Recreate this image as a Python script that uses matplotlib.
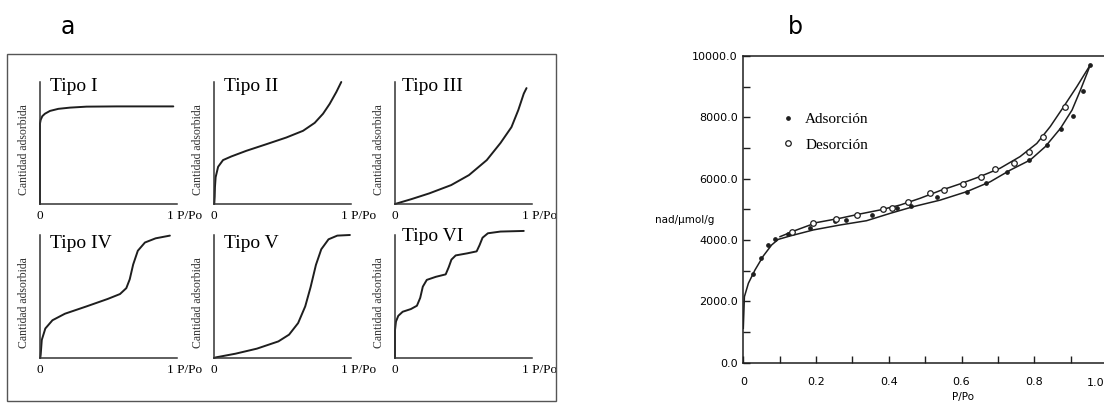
import numpy as np
import matplotlib
matplotlib.use("Agg")
import matplotlib.pyplot as plt
from matplotlib.patches import Rectangle

# ---- panel a: the six isotherm types (x = P/Po, y = amount, both 0..1)
tipo_names = ["Tipo I", "Tipo II", "Tipo III", "Tipo IV", "Tipo V", "Tipo VI"]

t1_x = [0, 0, 0.005, 0.017, 0.036, 0.073, 0.134, 0.219, 0.34, 0.56, 0.973]
t1_y = [0, 0.66, 0.69, 0.72, 0.74, 0.763, 0.78, 0.79, 0.798, 0.80, 0.80]

t2_x = [0.002, 0.005, 0.007, 0.012, 0.03, 0.066, 0.127, 0.236, 0.382, 0.528,
        0.65, 0.735, 0.796, 0.844, 0.893, 0.929]
t2_y = [0.0, 0.06, 0.14, 0.22, 0.305, 0.36, 0.39, 0.436, 0.49, 0.545,
        0.60, 0.665, 0.74, 0.82, 0.918, 1.0]

t3_x = [0, 0.12, 0.25, 0.41, 0.54, 0.67, 0.77, 0.85, 0.90, 0.94, 0.96]
t3_y = [0, 0.04, 0.087, 0.155, 0.237, 0.36, 0.50, 0.63, 0.77, 0.905, 0.95]

t4_x = [0.002, 0.005, 0.013, 0.039, 0.091, 0.182, 0.338, 0.494, 0.584, 0.63,
        0.655, 0.68, 0.714, 0.766, 0.844, 0.948]
t4_y = [0.0, 0.027, 0.147, 0.24, 0.307, 0.36, 0.419, 0.48, 0.52, 0.568,
        0.64, 0.76, 0.872, 0.939, 0.973, 0.995]

t5_x = [0.0, 0.013, 0.157, 0.313, 0.47, 0.548, 0.614, 0.666, 0.705, 0.744,
        0.783, 0.836, 0.90, 0.992]
t5_y = [0.0, 0.005, 0.035, 0.076, 0.135, 0.19, 0.284, 0.42, 0.576, 0.757,
        0.884, 0.965, 0.995, 1.0]

t6_x = [0, 0, 0.007, 0.024, 0.056, 0.116, 0.16, 0.184, 0.203, 0.232, 0.298,
        0.37, 0.392, 0.412, 0.443, 0.528, 0.596, 0.617, 0.639, 0.678, 0.77, 0.94]
t6_y = [0, 0.227, 0.296, 0.343, 0.376, 0.398, 0.425, 0.489, 0.58, 0.635, 0.66,
        0.68, 0.738, 0.80, 0.834, 0.851, 0.867, 0.917, 0.978, 1.014, 1.028, 1.033]

tipo_curves = [(t1_x, t1_y), (t2_x, t2_y), (t3_x, t3_y),
               (t4_x, t4_y), (t5_x, t5_y), (t6_x, t6_y)]

# ---- panel b: measured isotherm
ads_x = [0.026, 0.048, 0.069, 0.087, 0.122, 0.184, 0.252, 0.283, 0.353, 0.422,
         0.46, 0.532, 0.615, 0.666, 0.726, 0.786, 0.836, 0.874, 0.906, 0.935, 0.954]
ads_y = [2890, 3400, 3840, 4030, 4200, 4380, 4620, 4650, 4815, 5030,
         5120, 5390, 5580, 5850, 6230, 6610, 7100, 7610, 8044, 8870, 9710]

des_x = [0.133, 0.191, 0.254, 0.312, 0.383, 0.408, 0.454, 0.514, 0.553, 0.604,
         0.654, 0.693, 0.744, 0.786, 0.825, 0.885]
des_y = [4250, 4540, 4670, 4815, 5000, 5030, 5250, 5520, 5630, 5826,
         6065, 6316, 6520, 6880, 7370, 8327]

ads_line_x = [0.0, 0.003, 0.014, 0.032, 0.055, 0.078, 0.096, 0.128, 0.193, 0.266,
              0.339, 0.404, 0.468, 0.541, 0.615, 0.679, 0.734, 0.789, 0.83,
              0.872, 0.904, 0.927, 0.945, 0.954]
ads_line_y = [1120, 2150, 2590, 3020, 3480, 3840, 4020, 4130, 4330, 4490,
              4630, 4870, 5090, 5300, 5580, 5900, 6280, 6610, 7040,
              7640, 8240, 8890, 9430, 9710]

des_line_x = [0.954, 0.917, 0.881, 0.844, 0.807, 0.761, 0.706, 0.651, 0.596, 0.541,
              0.486, 0.431, 0.376, 0.321, 0.266, 0.202, 0.147, 0.101]
des_line_y = [9710, 9000, 8350, 7700, 7150, 6720, 6340, 6070, 5830, 5610,
              5360, 5140, 4980, 4850, 4710, 4570, 4330, 4110]

x_ticks = [0, 0.2, 0.4, 0.6, 0.8, 1.0]
x_labels = ["0", "0.2", "0.4", "0.6", "0.8", "1.0"]

W, H = 1104, 403
fig = plt.figure(figsize=(W / 100, H / 100), dpi=100)

def box(x0, y_top, x1, y_bot):
    # pixel box -> figure fraction [left, bottom, width, height]
    return [x0 / W, 1 - y_bot / H, (x1 - x0) / W, (y_bot - y_top) / H]

serif = "Liberation Serif"
ink = "#1e1e1e"

# outer frame of panel a
fig.patches.append(Rectangle((7 / W, 1 - 401 / H), (556 - 7) / W, (401 - 54) / H,
                             transform=fig.transFigure, fill=False,
                             edgecolor="#555555", linewidth=1.0))
fig.text(68 / W, 1 - 27 / H, "a", fontsize=17, ha="center", va="center",
         family="DejaVu Sans")
fig.text(795 / W, 1 - 27 / H, "b", fontsize=17, ha="center", va="center",
         family="DejaVu Sans")

col_left = [40, 214, 395]
rows = [(82, 204), (235, 358)]
name_pos = [(0.075, 1.03), (0.07, 1.03), (0.05, 1.03),
            (0.075, 1.0), (0.07, 1.0), (0.05, 1.06)]

for i, (cx, cy) in enumerate(tipo_curves):
    r, c = divmod(i, 3)
    top, bot = rows[r]
    ax = fig.add_axes(box(col_left[c], top, col_left[c] + 137, bot))
    ax.plot(cx, cy, color=ink, lw=1.4, clip_on=False, solid_capstyle="round")
    ax.set_xlim(0, 1)
    ax.set_ylim(0, 1)
    for s in ["top", "right"]:
        ax.spines[s].set_visible(False)
    for s in ["left", "bottom"]:
        ax.spines[s].set_color("#333333")
        ax.spines[s].set_linewidth(1.1)
    ax.set_xticks([])
    ax.set_yticks([])
    ax.text(name_pos[i][0], name_pos[i][1], tipo_names[i], transform=ax.transAxes,
            ha="left", va="top", fontsize=14, family=serif)
    ax.text(-0.115, 0.45, "Cantidad adsorbida", transform=ax.transAxes,
            rotation=90, ha="center", va="center", fontsize=8.5, family=serif,
            color="#333333")
    ax.text(0.0, -0.1, "0", transform=ax.transAxes, ha="center", va="center",
            fontsize=9.5, family=serif)
    ax.text(0.925, -0.1, "1 P/Po", transform=ax.transAxes, ha="left", va="center",
            fontsize=9.5, family=serif)

# panel b
bx = fig.add_axes(box(743.3, 56, 1107, 362.7))
bx.plot(ads_line_x, ads_line_y, color=ink, lw=1.1)
bx.plot(des_line_x, des_line_y, color=ink, lw=1.1)
bx.plot(ads_x, ads_y, "o", color=ink, ms=2.4, label="Adsorción")
bx.plot(des_x, des_y, "o", mfc="white", mec=ink, mew=0.9, ms=4.0, label="Desorción")
bx.set_xlim(0, 1.0)
bx.set_ylim(0, 10000)
bx.spines["right"].set_visible(False)
for s in ["left", "bottom", "top"]:
    bx.spines[s].set_linewidth(1.1)
    bx.spines[s].set_color(ink)

bx.set_xticks(np.arange(0, 1.01, 0.1), minor=True)
bx.set_xticks(x_ticks)
# last label would fall off the edge: drawn separately, nudged left
bx.set_xticklabels(x_labels[:-1] + [""])
bx.annotate(x_labels[-1], xy=(x_ticks[-1], 0), xycoords=("data", "axes fraction"),
            xytext=(-8, -14.5), textcoords="offset points", ha="center", va="center",
            fontsize=8)
bx.set_yticks(np.arange(0, 10001, 1000), minor=True)
bx.set_yticks(np.arange(0, 10001, 2000))
bx.set_yticklabels([f"{v:.1f}" for v in np.arange(0, 10001, 2000)])
bx.tick_params(which="both", direction="in", length=5, width=1.0, color=ink,
               labelsize=8)
bx.tick_params(axis="x", which="both", pad=10.5)
bx.tick_params(axis="y", which="both", pad=4)

fig.text(655 / W, 1 - 220 / H, "nad/\u00b5mol/g", fontsize=7.5, ha="left",
         va="center")
fig.text(963 / W, 1 - 397 / H, "P/Po", fontsize=7.5, ha="center", va="center")

bx.legend(loc="upper left", bbox_to_anchor=(0.065, 0.86), frameon=False,
          numpoints=1, handlelength=1.0, handletextpad=0.6, labelspacing=0.75,
          prop={"family": serif, "size": 11})

fig.savefig("out.png", dpi=100)
